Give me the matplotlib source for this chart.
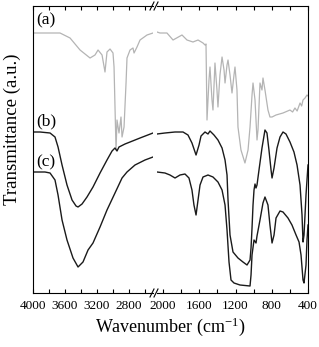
import matplotlib
matplotlib.use("Agg")
import matplotlib.pyplot as plt
from matplotlib.ticker import MultipleLocator
from matplotlib.lines import Line2D

plt.rcParams['font.family'] = ['Liberation Serif', 'DejaVu Serif']
plt.rcParams['mathtext.fontset'] = 'custom'
plt.rcParams['mathtext.rm'] = 'Liberation Serif'
plt.rcParams['mathtext.it'] = 'Liberation Serif:italic'

# spectrum (a), high wavenumber part
a_hi_wn = [4000, 3975, 3662, 3537, 3412, 3287, 3225, 3187, 3137, 3100, 3075, 3037, 3000, 2987,
           2962, 2950, 2925, 2900, 2887, 2862, 2837, 2825, 2787, 2750, 2737, 2700, 2662, 2575, 2500]
a_hi_t = [260, 260, 260, 255, 243, 235, 238, 243, 238, 221, 241, 244, 240, 226,
          143, 173, 160, 176, 156, 166, 210, 235, 243, 245, 240, 246, 253, 258, 260]
# spectrum (a), low wavenumber part
a_lo_wn = [2067, 2034, 1957, 1890, 1791, 1736, 1670, 1614, 1559, 1537, 1526, 1515, 1493, 1482,
           1460, 1449, 1427, 1405, 1394, 1372, 1349, 1327, 1316, 1294, 1283, 1261, 1239, 1217,
           1206, 1184, 1173, 1140, 1096, 1062, 1040, 1018, 1007, 985, 963, 952, 930, 908, 897,
           875, 842, 820, 797, 753, 676, 599, 570, 544, 520, 488, 470, 455, 433, 411, 400]
a_lo_t = [261, 260, 260, 253, 258, 253, 251, 253, 250, 248, 249, 173, 213, 226,
          193, 183, 230, 203, 186, 218, 236, 223, 210, 228, 233, 218, 200, 218,
          226, 203, 166, 143, 130, 143, 166, 198, 210, 193, 153, 163, 210, 203, 215,
          203, 183, 176, 176, 178, 180, 183, 181, 185, 182, 190, 187, 193, 195, 198, 197]

# spectrum (b)
b_hi_wn = [4000, 3912, 3787, 3725, 3687, 3637, 3575, 3512, 3462, 3437, 3387, 3325, 3250, 3162,
           3075, 3012, 2975, 2950, 2925, 2850, 2787, 2662, 2500]
b_hi_t = [161, 161, 160, 156, 146, 128, 108, 93, 87, 86, 89, 96, 106, 120,
          133, 142, 145, 142, 146, 149, 151, 155, 160]
b_lo_wn = [2067, 1979, 1868, 1780, 1725, 1681, 1636, 1603, 1581, 1537, 1504, 1482, 1438, 1394,
           1349, 1316, 1294, 1283, 1261, 1228, 1173, 1118, 1073, 1040, 1029, 1018, 1007, 996,
           985, 974, 963, 941, 908, 875, 853, 831, 808, 797, 775, 742, 709, 676, 643, 599,
           555, 521, 488, 466, 455, 444, 422, 400]
b_lo_t = [159, 160, 161, 161, 158, 150, 138, 148, 157, 161, 159, 162, 158, 153,
          145, 133, 118, 93, 58, 41, 35, 31, 28, 33, 45, 65, 88, 103,
          109, 105, 108, 123, 145, 163, 160, 143, 123, 115, 125, 145, 156, 161, 159, 151,
          141, 128, 108, 78, 51, 58, 98, 128]

# spectrum (c)
c_hi_wn = [4000, 3850, 3787, 3725, 3687, 3637, 3575, 3500, 3437, 3375, 3312, 3250, 3162, 3075,
           2975, 2887, 2825, 2725, 2600, 2500]
c_hi_t = [121, 121, 120, 113, 98, 73, 53, 35, 26, 31, 43, 50, 66, 83,
          100, 115, 121, 128, 133, 136]
c_lo_wn = [2067, 1979, 1924, 1868, 1813, 1758, 1714, 1681, 1659, 1636, 1614, 1592, 1559, 1504,
           1449, 1394, 1349, 1316, 1294, 1272, 1250, 1217, 1151, 1040, 1029, 1018, 996, 974,
           963, 930, 897, 875, 842, 820, 797, 775, 753, 709, 676, 621, 577, 532, 499, 477,
           455, 444, 422, 411, 400]
c_lo_t = [121, 120, 118, 115, 118, 119, 115, 103, 88, 78, 93, 108, 116, 118,
          116, 111, 103, 88, 63, 31, 13, 10, 8, 7, 18, 38, 53, 50,
          57, 73, 90, 96, 88, 68, 50, 58, 75, 82, 81, 75, 68, 58, 51, 38,
          13, 10, 28, 53, 68]

W, H = 319, 347
fig = plt.figure(figsize=(W / 100, H / 100), dpi=100)
ax1 = fig.add_axes([33 / W, 1 - 293 / H, 120 / W, 287 / H])
ax2 = fig.add_axes([157 / W, 1 - 293 / H, 151 / W, 287 / H])

gray = '#b4b4b4'
dark = '#1a1a1a'
ax1.plot(a_hi_wn, a_hi_t, color=gray, lw=0.9)
ax1.plot(b_hi_wn, b_hi_t, color=dark, lw=1.0)
ax1.plot(c_hi_wn, c_hi_t, color=dark, lw=1.0)
ax2.plot(a_lo_wn, a_lo_t, color=gray, lw=0.9)
ax2.plot(b_lo_wn, b_lo_t, color=dark, lw=1.0)
ax2.plot(c_lo_wn, c_lo_t, color=dark, lw=1.0)

ax1.set_xlim(4000, 2500)
ax2.set_xlim(2067, 400)
for ax in (ax1, ax2):
    ax.set_ylim(0, 287)
    ax.set_yticks([])
    ax.xaxis.set_major_locator(MultipleLocator(400))
    ax.xaxis.set_minor_locator(MultipleLocator(200))
    ax.tick_params(axis='x', which='both', direction='in', top=True, length=3,
                   width=0.8, labelsize=9.5, pad=5)
    for s in ax.spines.values():
        s.set_linewidth(0.8)
ax1.spines['right'].set_visible(False)
ax2.spines['left'].set_visible(False)

# axis break marks
for yb in (293, 6):
    for xo in (0, 4):
        fig.add_artist(Line2D([(150 + xo) / W, (154 + xo) / W],
                              [1 - (yb + 4) / H, 1 - (yb - 4) / H],
                              color='black', lw=0.8))

fig.text(46 / W, 1 - 20 / H, '(a)', fontsize=12.5, ha='center', va='center')
fig.text(46 / W, 1 - 121 / H, '(b)', fontsize=12.5, ha='center', va='center')
fig.text(46 / W, 1 - 162 / H, '(c)', fontsize=12.5, ha='center', va='center')

fig.text(170 / W, 1 - 327 / H, 'Wavenumber (cm$^{-1}$)', fontsize=13,
         ha='center', va='center')
fig.text(12 / W, 1 - 129 / H, 'Transmittance (a.u.)', fontsize=13.5,
         rotation=90, ha='center', va='center')

fig.savefig('out.png', dpi=100)
